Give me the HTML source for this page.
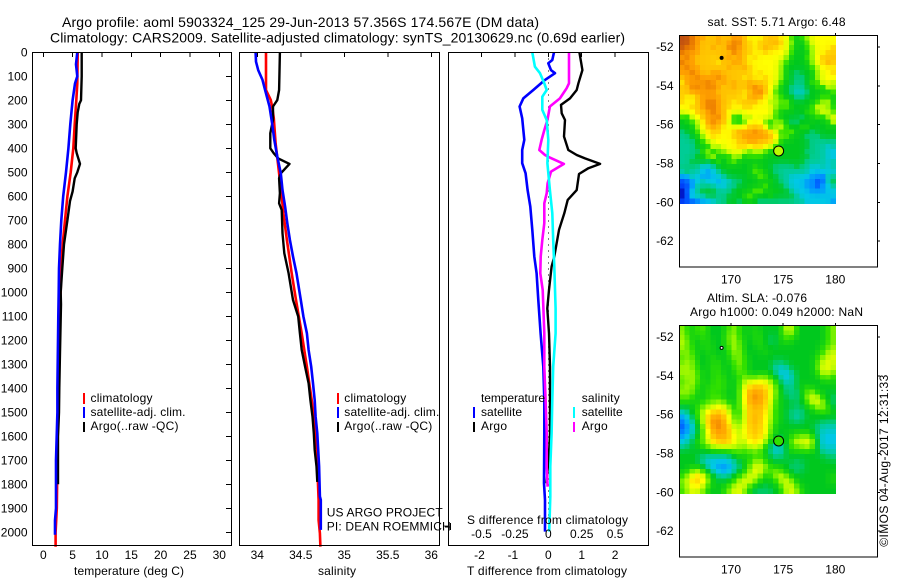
<!DOCTYPE html>
<html>
<head>
<meta charset="utf-8">
<title>Argo profile</title>
<style>
html,body{margin:0;padding:0;background:#fff;width:900px;height:580px;overflow:hidden}
svg{display:block;font-family:"Liberation Sans",sans-serif;font-size:12px;fill:#000}
.t{font-size:14px}
</style>
</head>
<body>
<svg id="chart" xmlns="http://www.w3.org/2000/svg" width="900" height="580" viewBox="0 0 900 580">
<rect x="0" y="0" width="900" height="580" fill="#fff"/>
<g id="layer-maps"></g>
<g id="layer-lines"></g>
<g id="layer-axes"></g>

<text class="t" x="62" y="27" textLength="477">Argo profile: aoml 5903324_125 29-Jun-2013 57.356S 174.567E (DM data)</text>
<text class="t" x="50" y="42.5" textLength="575">Climatology: CARS2009. Satellite-adjusted climatology: synTS_20130629.nc (0.69d earlier)</text>

<text x="74" y="575" textLength="110">temperature (deg C)</text>
<text x="318" y="575" textLength="38">salinity</text>
<text x="467" y="575" textLength="160">T difference from climatology</text>
<text x="467" y="524" textLength="161">S difference from climatology</text>

<g>
<rect x="83" y="393" width="2" height="11" fill="#f00"/>
<rect x="83" y="407" width="2" height="11" fill="#00f"/>
<rect x="83" y="422" width="2" height="10" fill="#000"/>
<text x="90.5" y="402" textLength="62">climatology</text>
<text x="90.5" y="416" textLength="95">satellite-adj. clim.</text>
<text x="90.5" y="430" textLength="88">Argo(..raw -QC)</text>
</g>
<g>
<rect x="337" y="393" width="2" height="11" fill="#f00"/>
<rect x="337" y="407" width="2" height="11" fill="#00f"/>
<rect x="337" y="422" width="2" height="10" fill="#000"/>
<text x="344.3" y="402" textLength="62">climatology</text>
<text x="344.3" y="416" textLength="95">satellite-adj. clim.</text>
<text x="344.3" y="430" textLength="88">Argo(..raw -QC)</text>
</g>
<text x="326.7" y="516.7" textLength="116">US ARGO PROJECT</text>
<text x="326.7" y="530.7" textLength="124">PI: DEAN ROEMMICH</text>
<g>
<text x="481" y="402" textLength="64">temperature</text>
<text x="481" y="416" textLength="41">satellite</text>
<text x="481" y="430" textLength="26">Argo</text>
<rect x="473" y="407" width="2" height="11" fill="#00f"/>
<rect x="473" y="422" width="2" height="10" fill="#000"/>
<text x="581.7" y="402" textLength="38">salinity</text>
<text x="581.7" y="416" textLength="41">satellite</text>
<text x="581.7" y="430" textLength="26">Argo</text>
<rect x="573" y="407" width="2" height="11" fill="#0ff"/>
<rect x="573" y="422" width="2" height="10" fill="#f0f"/>
</g>

<text x="776.5" y="26" text-anchor="middle" textLength="138">sat. SST: 5.71  Argo: 6.48</text>
<text x="707" y="302" textLength="100">Altim. SLA: -0.076</text>
<text x="690" y="316" textLength="173">Argo h1000: 0.049 h2000: NaN</text>
<text transform="translate(888,546.7) rotate(-90)" x="0" y="0" textLength="172">©IMOS 04-Aug-2017 12:31:33</text>
</svg>

<script>
// ---------- Temperature panel data (depth in dbar, temperature in deg C)
var tempClimDepth = [0,130,200,300,400,500,600,700,800,900,1000,1100,1300,1500,1700,1900,2000,2060];
var tempClimValues = [5.86,5.8,5.63,5.35,5.12,4.67,4.1,3.7,3.3,3.03,2.96,2.73,2.56,2.5,2.4,2.3,2.1,2.1];
var tempArgoDepth = [0,100,200,215,250,300,400,420,465,500,525,580,620,700,800,900,1000,1050,1250,1400,1500,1600,1800];
var tempArgoValues = [6.54,6.54,6.43,6.14,5.86,5.69,5.52,5.69,6.26,5.8,5.35,5,4.55,4.1,3.53,3.24,2.96,3.02,2.85,2.73,2.68,2.5,2.5];
var tempSatDepth = [0,50,100,130,200,300,400,500,600,700,800,900,1000,1100,1400,1500,1700,1900,1950,2010];
var tempSatValues = [5.8,5.57,5.8,5.4,5,4.6,4.27,3.87,3.4,3.07,2.85,2.68,2.62,2.56,2.4,2.4,2.16,2.16,1.99,1.99];

// ---------- Salinity panel data
var salClimDepth = [0,157,199,226,275,379,504,601,671,782,921,1032,1171,1310,1449,1588,1726,1865,1949,2004,2060];
var salClimValues = [34.1,34.1,34.155,34.17,34.19,34.21,34.25,34.28,34.3,34.34,34.395,34.445,34.51,34.57,34.625,34.675,34.69,34.705,34.705,34.72,34.725];
var salArgoDepth = [0,157,199,226,282,337,400,421,442,465,504,525,587,629,657,754,837,921,1032,1101,1171,1240,1310,1379,1449,1518,1588,1657,1726,1790];
var salArgoValues = [34.26,34.25,34.23,34.18,34.18,34.15,34.15,34.19,34.24,34.37,34.27,34.25,34.26,34.25,34.28,34.29,34.31,34.36,34.41,34.47,34.49,34.51,34.55,34.59,34.61,34.635,34.65,34.66,34.68,34.69];
var salSatDepth = [0,39,74,115,157,226,296,365,435,504,574,643,712,782,851,921,1032,1101,1171,1240,1310,1379,1449,1518,1588,1657,1726,1851,1865,1990];
var salSatValues = [33.98,33.985,34.01,34.06,34.09,34.14,34.17,34.195,34.23,34.27,34.29,34.32,34.345,34.375,34.41,34.45,34.50,34.53,34.57,34.59,34.62,34.64,34.66,34.67,34.69,34.70,34.71,34.72,34.73,34.73];

// ---------- Difference panel data (T differences in deg C, S differences in psu)
var diffTSatDepth = [0,32,46,74,87,115,157,192,226,275,365,407,462,504,574,643,740,851,921,1032,1171,1310,1449,1588,1796,1865,1997];
var diffTSatValues = [0.17,0.12,0,0.08,0.2,-0.1,-0.45,-0.75,-0.86,-0.78,-0.72,-0.78,-0.78,-0.68,-0.62,-0.54,-0.48,-0.42,-0.35,-0.3,-0.23,-0.15,-0.12,-0.12,-0.13,-0.1,-0.1];
var diffTArgoDepth = [0,39,74,129,157,192,219,254,282,351,407,428,442,465,483,507,574,615,671,740,851,893,990,1067,1171,1310,1449,1588,1650,1796];
var diffTArgoValues = [0.93,0.98,1.02,0.9,0.85,0.65,0.38,0.4,0.5,0.47,0.6,0.85,1.1,1.55,1.2,0.92,0.85,0.58,0.48,0.32,0.18,0.1,0.02,-0.03,0.02,0.05,0.05,0.05,0.03,-0.05];
var diffSArgoDepth = [0,129,150,192,226,282,324,365,407,428,437,465,497,546,587,629,712,782,851,921,990,1067,1171,1310,1449,1588,1726,1810];
var diffSArgoValues = [0.155,0.155,0.137,0.087,0.012,-0.007,-0.03,-0.05,-0.067,-0.025,0.005,0.117,0.02,-0.005,-0.012,-0.03,-0.03,-0.045,-0.057,-0.06,-0.042,-0.037,-0.03,-0.03,-0.02,-0.012,-0.012,-0.005];
var diffSSatDepth = [0,60,87,129,157,185,240,282,365,462,574,671,782,893,1067,1171,1310,1449,1588,1726,1851,1997];
var diffSSatValues = [-0.12,-0.1,-0.062,-0.03,-0.012,-0.045,-0.045,-0.012,0,-0.007,0.012,0.03,0.037,0.045,0.055,0.055,0.037,0.03,0.025,0.015,0.015,0.007];

// ---------- Tick labels
var depthTicks = [0,100,200,300,400,500,600,700,800,900,1000,1100,1200,1300,1400,1500,1600,1700,1800,1900,2000];
var tempTicks = [0,5,10,15,20,25,30];
var salTicks = [34,34.5,35,35.5,36];
var diffTTicks = [-2,-1,0,1,2];
var diffSTicks = [-0.5,-0.25,0,0.25,0.5];
var lonTicks = [170,175,180];
var latTicks = [-52,-54,-56,-58,-60,-62];

// ---------- Map data: colour-class index per grid cell, 34 rows x 30 columns
var sstGrid = [
[12,12,11,10,10,9,9,10,9,9,10,10,9,8,8,8,9,9,9,8,8,6,5,6,7,8,8,8,8,8],
[12,12,11,10,9,9,9,10,9,10,11,11,9,9,8,9,9,9,10,9,8,7,5,5,6,8,8,8,8,8],
[12,11,11,10,9,9,10,9,9,11,11,10,9,9,8,9,10,9,9,8,8,6,5,5,6,7,8,8,8,9],
[11,10,10,10,9,9,9,9,9,9,11,10,9,9,8,8,9,8,8,8,8,6,5,5,5,7,8,8,9,9],
[10,11,10,9,9,9,9,9,10,10,9,10,9,8,9,8,8,8,8,8,7,5,5,5,6,7,8,9,9,9],
[11,10,10,9,9,9,9,8,9,9,10,10,9,8,8,8,8,8,8,7,6,5,5,5,5,7,8,9,10,9],
[10,11,10,10,9,9,9,9,9,10,9,9,10,9,8,8,8,8,8,7,5,5,5,5,5,6,7,8,8,8],
[10,10,11,10,9,9,10,10,9,9,9,9,9,9,8,9,8,8,8,7,5,5,4,5,5,5,7,8,8,9],
[9,10,10,11,10,10,10,11,10,9,9,9,8,9,8,8,9,8,8,7,5,5,4,4,5,5,7,8,8,8],
[8,10,10,10,10,11,10,9,10,9,10,9,9,10,9,9,9,8,8,6,5,5,4,4,5,6,6,8,8,7],
[9,9,11,11,10,11,11,10,9,9,10,9,9,10,11,10,9,8,7,5,5,4,4,4,5,5,6,5,8,7],
[9,9,10,10,10,10,10,9,9,9,9,9,8,9,10,11,9,8,6,5,5,4,3,3,4,5,5,5,5,6],
[9,8,8,9,10,10,10,10,9,9,9,9,8,10,10,10,8,8,7,6,5,5,4,4,5,5,5,6,6,5],
[9,8,8,9,10,11,11,10,9,9,8,9,9,9,9,8,8,7,7,6,7,5,5,5,5,5,6,7,8,5],
[8,8,9,9,10,11,11,10,9,9,8,8,9,9,8,8,8,8,7,6,7,5,5,5,5,6,8,7,7,5],
[8,8,8,9,9,10,11,10,9,8,8,8,8,8,8,8,8,8,6,5,5,5,5,5,6,6,7,8,8,6],
[6,5,8,8,9,10,10,11,9,9,5,5,8,7,8,8,8,8,6,5,5,5,5,4,5,5,6,5,7,8],
[5,5,6,7,8,10,11,10,9,8,5,5,6,8,8,8,6,5,7,7,5,4,4,5,5,5,5,5,5,8],
[5,5,5,7,8,9,10,9,8,8,8,8,8,9,9,9,8,5,7,8,6,5,5,6,6,5,5,5,5,5],
[4,5,5,6,8,8,9,9,8,8,9,10,10,10,11,10,10,9,8,5,6,7,5,5,5,4,5,5,5,5],
[4,4,5,5,7,8,9,8,8,8,9,9,10,10,10,10,10,9,9,6,7,5,5,5,4,4,4,5,5,5],
[4,4,4,5,6,7,8,8,8,8,8,9,9,10,10,9,9,9,8,5,5,5,5,5,5,4,4,4,4,4],
[4,4,4,5,5,5,8,7,8,8,8,9,9,8,9,9,8,8,6,5,5,5,5,5,5,4,4,4,3,4],
[4,4,4,4,6,7,5,6,7,8,8,8,7,6,7,7,6,5,5,5,5,5,5,5,4,4,4,4,3,3],
[4,4,4,5,5,7,8,5,5,5,7,7,5,6,6,6,5,5,5,5,5,5,5,5,5,4,4,4,3,3],
[4,4,5,5,5,4,5,6,5,6,7,5,5,5,5,5,5,5,5,5,5,5,5,5,4,4,4,4,3,4],
[4,4,4,4,3,3,4,5,5,5,5,5,5,5,6,5,5,5,4,4,4,4,5,4,4,3,3,4,3,4],
[4,5,4,4,3,2,3,4,5,5,5,5,5,5,7,6,5,5,4,4,4,4,4,4,4,3,3,3,3,3],
[2,2,4,3,2,2,3,3,4,5,5,5,5,5,5,7,6,5,5,4,4,3,3,3,3,2,2,1,4,4],
[1,1,2,3,4,3,3,2,3,3,4,4,5,5,5,5,5,5,5,4,4,3,3,3,2,2,1,1,4,5],
[1,1,2,4,4,4,4,3,3,4,4,5,5,5,5,5,7,5,5,5,4,3,3,3,2,2,1,2,3,4],
[0,1,3,4,5,5,5,4,4,4,5,5,5,5,7,7,5,5,5,5,5,4,3,3,3,2,2,2,3,3],
[0,1,4,4,4,5,5,4,4,5,5,5,6,7,5,5,5,6,5,5,5,5,4,3,3,3,3,3,3,3],
[1,1,1,1,2,2,3,4,4,5,5,4,5,5,5,4,4,4,4,4,4,4,4,4,3,3,3,3,3,2]
];
var slaGrid = [
[7,6,5,6,7,5,5,5,5,6,7,6,5,5,6,5,5,5,5,5,8,8,5,5,5,5,5,5,6,7],
[7,6,5,6,7,5,5,5,5,7,7,6,5,5,6,5,5,5,5,5,7,8,5,5,5,5,5,5,6,7],
[7,7,5,5,6,5,5,5,5,7,7,6,5,5,6,6,5,4,5,5,7,6,5,5,5,5,5,5,6,7],
[7,7,5,5,6,6,5,5,5,7,7,7,5,5,5,6,5,4,5,5,6,5,5,5,5,5,5,5,6,7],
[7,7,6,5,5,6,5,5,5,6,7,7,5,5,5,6,5,5,5,5,5,5,5,5,5,5,5,6,6,7],
[6,7,6,5,5,6,5,5,5,6,7,7,5,5,5,5,6,5,5,5,5,5,5,5,5,5,5,6,7,8],
[6,7,7,5,5,5,6,5,5,5,7,7,6,5,5,5,5,5,5,5,5,5,5,5,5,5,6,7,7,8],
[6,7,7,5,5,5,6,6,5,5,6,7,6,5,5,5,5,5,4,4,5,5,5,5,5,5,6,8,8,7],
[7,7,7,6,5,5,6,6,5,5,6,7,6,5,5,5,5,5,4,3,4,5,5,5,5,5,6,8,8,7],
[7,7,7,6,5,5,6,6,5,5,5,7,6,5,5,5,5,5,4,2,3,4,5,5,5,5,6,8,8,6],
[6,7,7,7,5,5,6,6,6,5,5,6,7,6,6,7,7,6,5,4,2,3,5,5,5,5,5,6,7,5],
[6,7,7,6,5,5,6,6,6,5,5,6,7,8,8,8,8,7,6,5,3,4,5,5,5,5,5,5,6,5],
[6,7,7,6,5,6,6,6,6,5,5,6,8,9,9,9,9,8,6,5,4,4,5,5,6,5,5,5,5,5],
[7,7,7,5,5,6,6,6,6,5,5,6,8,10,10,10,9,8,7,5,4,4,4,5,7,7,5,5,5,5],
[6,7,6,5,5,6,6,6,5,5,5,6,8,10,11,10,9,8,6,5,5,4,4,5,7,8,8,5,5,4],
[5,6,5,5,6,6,6,7,7,5,5,6,8,10,10,10,9,8,6,5,5,5,4,5,6,8,8,7,5,4],
[5,5,5,6,7,7,8,8,8,7,5,6,8,9,10,9,9,7,6,5,5,5,4,5,5,6,7,8,6,4],
[3,4,5,6,7,8,9,9,9,8,6,5,8,9,9,9,9,7,6,5,5,4,4,4,5,5,5,6,6,5],
[2,3,5,6,7,9,10,10,9,8,6,5,8,9,10,9,8,7,6,5,5,4,3,4,5,5,5,5,5,5],
[1,2,4,5,7,9,11,11,10,8,7,6,8,9,10,9,8,7,6,5,5,5,4,5,5,5,5,4,4,4],
[1,2,3,5,6,9,10,11,10,9,7,6,8,9,9,9,8,7,5,5,5,5,5,5,5,5,4,4,4,4],
[1,2,3,5,6,8,10,10,10,9,8,7,8,9,9,9,8,6,5,5,5,5,5,5,5,5,4,3,3,3],
[2,3,4,5,6,8,9,10,10,9,8,7,8,9,9,9,8,7,5,5,5,6,7,7,7,7,4,3,3,3],
[3,3,5,6,6,8,9,9,9,9,8,7,7,8,9,8,7,5,4,4,5,6,8,7,8,8,4,3,3,3],
[4,4,5,5,6,7,7,8,8,8,8,7,7,7,8,7,6,4,3,3,5,7,7,7,8,8,4,3,3,3],
[5,5,5,5,4,5,5,5,5,5,6,6,6,6,7,6,5,4,3,3,5,5,5,5,5,5,5,4,4,4],
[5,5,5,5,4,4,4,4,4,4,5,6,5,5,6,6,5,5,4,4,5,5,5,5,5,5,5,5,4,4],
[5,5,5,5,4,3,3,3,3,3,4,5,5,6,7,7,6,5,5,5,5,5,4,5,5,5,5,5,5,5],
[5,5,5,5,4,3,2,2,1,2,3,4,5,7,8,8,7,5,5,5,5,4,4,4,5,5,5,5,5,5],
[5,5,7,8,7,5,4,3,2,3,4,5,5,6,8,8,6,7,8,6,5,5,4,5,5,5,5,5,5,5],
[6,7,8,9,8,6,5,4,4,4,5,6,7,8,8,7,5,5,7,8,7,5,5,5,5,5,5,5,5,6],
[6,7,9,9,9,7,5,5,5,5,6,7,8,8,7,5,5,5,6,7,8,7,5,5,5,5,5,5,5,6],
[6,8,8,9,8,6,5,5,5,6,7,8,8,6,5,5,5,5,5,6,8,8,6,5,5,5,5,5,5,5],
[5,7,7,7,6,5,5,5,6,7,8,8,6,5,4,4,4,4,5,5,7,8,7,6,5,5,5,5,5,5]
];
var colorClasses = ['#0000aa','#0046ff','#0096ff','#00c8e6','#00cc96','#00c81e','#30e000','#aafa00','#ffff00','#ffc800','#ffa000','#e87800','#c05010'];
var sstSmoothing = [1,6];
var slaSmoothing = [1,2];
var argoLon = 174.567;
var argoLat = -57.356;
var originLon = 169.1;
var originLat = -52.56;
var sstAtArgo = 7.2;
var slaAtArgo = 6;

// ---------- Scales
function yDepth(d){return 52.3+d*0.24;}
function xTemp(t){return 43.3+t*5.867;}
function xSal(s){return 257.3+(s-34)*87;}
function xDiffT(t){return 548.3+t*33.4;}
function xDiffS(s){return 548.3+s*133.6;}
function xLon(l){return 731+(l-170)*10.43;}
function yLat(l,top){return top+47+(-52-l)*19.41;}

var NS='http://www.w3.org/2000/svg';
var linesLayer=document.getElementById('layer-lines');
var axesLayer=document.getElementById('layer-axes');
var mapsLayer=document.getElementById('layer-maps');
function mk(tag,attrs,parent){
  var e=document.createElementNS(NS,tag);
  for(var k in attrs){e.setAttribute(k,attrs[k]);}
  parent.appendChild(e);
  return e;
}
function hline(x1,y1,x2,y2,parent){
  var el=mk('line',{x1:x1,y1:y1,x2:x2,y2:y2,stroke:'#000','stroke-width':1,'shape-rendering':'crispEdges'},parent);
  
  
  return el;
}
function label(x,y,txt,anchor,parent){
  var el=mk('text',{x:x,y:y,'text-anchor':anchor},parent);
  el.textContent=txt;
  
  
  return el;
}
function drawLine(depths,values,xf,color,width,name){
  var pts=[];
  for(var i=0;i<depths.length;i++){pts.push(xf(values[i]).toFixed(1)+','+yDepth(depths[i]).toFixed(1));}
  var el=mk('polyline',{points:pts.join(' '),fill:'none',stroke:color,'stroke-width':width,'stroke-linejoin':'round'},linesLayer);
  
  
}

// ---------- Profile lines
drawLine(tempClimDepth,tempClimValues,xTemp,'#f00',2.6,'temperature-climatology-line');
drawLine(tempArgoDepth,tempArgoValues,xTemp,'#000',2.4,'temperature-argo-line');
drawLine(tempSatDepth,tempSatValues,xTemp,'#00f',2.6,'temperature-satellite-line');
drawLine(salClimDepth,salClimValues,xSal,'#f00',2.6,'salinity-climatology-line');
drawLine(salArgoDepth,salArgoValues,xSal,'#000',2.4,'salinity-argo-line');
drawLine(salSatDepth,salSatValues,xSal,'#00f',2.6,'salinity-satellite-line');

var zeroLine=mk('line',{x1:xDiffT(0),y1:yDepth(0),x2:xDiffT(0),y2:yDepth(2000),stroke:'#000','stroke-width':1,'stroke-dasharray':'1 5','shape-rendering':'crispEdges'},linesLayer);


drawLine(diffTSatDepth,diffTSatValues,xDiffT,'#00f',2.6,'t-difference-satellite-line');
drawLine(diffTArgoDepth,diffTArgoValues,xDiffT,'#000',2.4,'t-difference-argo-line');
drawLine(diffSArgoDepth,diffSArgoValues,xDiffS,'#f0f',2.6,'s-difference-argo-line');
drawLine(diffSSatDepth,diffSSatValues,xDiffS,'#0ff',2.6,'s-difference-satellite-line');

// ---------- Frames
function frame(x,y,w,h,name,parent){
  var el=mk('rect',{x:x,y:y,width:w,height:h,fill:'none',stroke:'#000','stroke-width':1,'shape-rendering':'crispEdges'},parent);
  
  
}
frame(32.5,52.5,199,493,'temperature-panel-frame',axesLayer);
frame(239.5,52.5,200,493,'salinity-panel-frame',axesLayer);
frame(448.5,52.5,200,493,'difference-panel-frame',axesLayer);

// ---------- Profile panel ticks
depthTicks.forEach(function(d){
  var y=yDepth(d);
  hline(226,y,231.5,y,axesLayer);
  label(27.5,y+4,String(d),'end',axesLayer);
});
tempTicks.forEach(function(t){
  hline(xTemp(t),52.5,xTemp(t),57,axesLayer);
  label(xTemp(t),559,String(t),'middle',axesLayer);
});
salTicks.forEach(function(s){
  hline(xSal(s),52.5,xSal(s),57,axesLayer);
  label(xSal(s),559,String(s),'middle',axesLayer);
});
diffTTicks.forEach(function(t){
  hline(xDiffT(t),52.5,xDiffT(t),57,axesLayer);
  label(xDiffT(t)-(t<0?2:0),559,String(t),'middle',axesLayer);
});
diffSTicks.forEach(function(s){
  label(xDiffS(s),538,String(s),'middle',axesLayer);
});
hline(445,527,450.5,527,axesLayer);
hline(450.5,523,450.5,530,axesLayer);

// ---------- Maps
function smoothAt(grid,r,c,weights){
  var sum=0,tot=0;
  for(var dr=-1;dr<=1;dr++){
    for(var dc=-1;dc<=1;dc++){
      var rr=r+dr,cc=c+dc;
      if(rr<0||rr>=grid.length||cc<0||cc>=grid[rr].length){continue;}
      var w=(dr===0&&dc===0)?weights[1]:((dr===0||dc===0)?weights[0]:1);
      sum+=grid[rr][cc]*w;
      tot+=w;
    }
  }
  return sum/tot;
}
function colorFor(v){
  var lo=Math.floor(v),hi=Math.min(12,lo+1),f=v-lo;
  function p(h){return [parseInt(h.substr(1,2),16),parseInt(h.substr(3,2),16),parseInt(h.substr(5,2),16)];}
  var a=p(colorClasses[lo]),b=p(colorClasses[hi]);
  return 'rgb('+Math.round(a[0]+(b[0]-a[0])*f)+','+Math.round(a[1]+(b[1]-a[1])*f)+','+Math.round(a[2]+(b[2]-a[2])*f)+')';
}
function drawMap(grid,top,name,weights){
  var left=679.3,cw=156.5/30,ch=168.2/34;
  var g=mk('g',{'shape-rendering':'crispEdges'},mapsLayer);
  
  
  for(var r=0;r<grid.length;r++){
    for(var c=0;c<grid[r].length;c++){
      var cell=mk('rect',{x:(left+c*cw).toFixed(2),y:(top+35.3+r*ch).toFixed(2),width:(cw+0.4).toFixed(2),height:(ch+0.4).toFixed(2),fill:colorFor(smoothAt(grid,r,c,weights))},g);
      
      
    }
  }
}
function mapDecor(top,val,dotFill,name){
  frame(679.5,top+35.5,198,231.5,name+'-frame',axesLayer);
  lonTicks.forEach(function(l){
    hline(xLon(l),top+33,xLon(l),top+35.5,axesLayer);
    label(xLon(l),top+283.5,String(l),'middle',axesLayer);
  });
  latTicks.forEach(function(l){
    var y=yLat(l,top);
    hline(877.5,y,880,y,axesLayer);
    label(673.5,y+4,String(l),'end',axesLayer);
  });
  var c=mk('circle',{cx:xLon(argoLon),cy:yLat(argoLat,top),r:5,fill:colorFor(val),stroke:'#000','stroke-width':1},axesLayer);
  
  
  var d=mk('circle',{cx:xLon(originLon),cy:yLat(originLat,top),r:1.5,fill:dotFill,stroke:'#000','stroke-width':1},axesLayer);
  
  
}
drawMap(sstGrid,0,'sst-heatmap',sstSmoothing);
drawMap(slaGrid,290,'sla-heatmap',slaSmoothing);
mapDecor(0,sstAtArgo,'#000','sst-map');
mapDecor(290,slaAtArgo,'#fff','sla-map');
</script>
</body>
</html>
